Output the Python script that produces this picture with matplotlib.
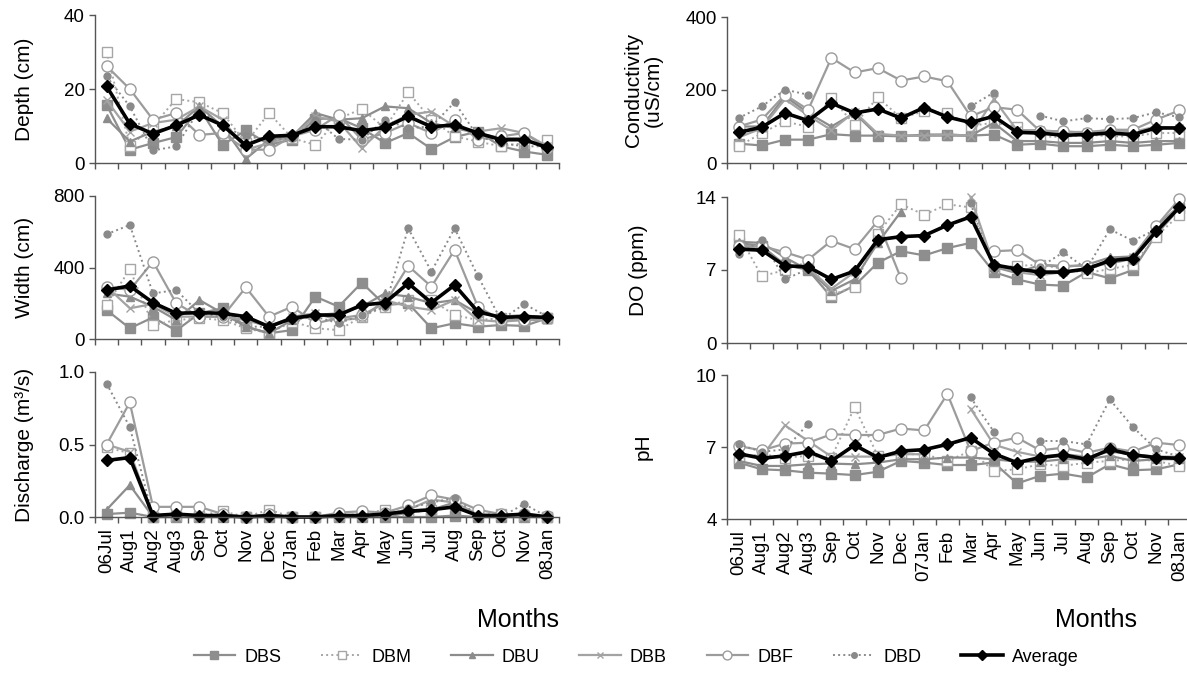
import matplotlib

matplotlib.use("Agg")
import matplotlib.pyplot as plt
import numpy as np

nan = np.nan
plt.rcParams["font.family"] = ["Liberation Sans", "DejaVu Sans"]

months = ["06Jul", "Aug1", "Aug2", "Aug3", "Sep", "Oct", "Nov", "Dec", "07Jan", "Feb",
          "Mar", "Apr", "May", "Jun", "Jul", "Aug", "Sep", "Oct", "Nov", "08Jan"]
sites = ["DBS", "DBM", "DBU", "DBB", "DBF", "DBD", "Average"]

# depth (cm)
depth_dbs = [15.7, 3.6, 5.4, 7.0, 14.8, 4.9, 8.8, 5.0, 6.3, 11.9, 12.1, 9.4, 5.4, 8.1, 3.8, 7.0, 8.5, 4.5, 3.1, 2.2]
depth_dbm = [30.1, 4.5, 10.0, 17.3, 16.4, 13.5, 5.4, 13.5, 6.7, 4.9, 12.0, 14.6, 9.4, 19.1, 11.7, 7.2, 5.8, 4.5, 5.4, 6.3]
depth_dbu = [12.1, 5.8, 8.5, 9.9, 15.3, 9.9, 1.1, 6.3, 7.2, 13.5, 11.7, 12.1, 15.3, 14.8, 10.8, 9.4, 8.1, 6.7, 6.7, 3.6]
depth_dbb = [17.0, 8.5, 10.8, 11.7, 15.3, 11.7, 3.6, 5.4, 7.2, 12.6, 11.2, 4.0, 9.9, 13.0, 13.9, 9.9, 8.5, 9.4, 8.1, 4.5]
depth_dbf = [26.2, 20.0, 11.7, 13.5, 7.6, 8.1, 3.6, 3.6, 7.2, 9.0, 13.0, 6.3, 8.1, 10.8, 8.1, 11.7, 6.3, 7.2, 8.1, 4.0]
depth_dbd = [23.4, 15.3, 3.4, 4.5, 14.4, 9.9, 7.2, 6.3, 6.7, 11.7, 6.5, 6.3, 11.7, 9.4, 9.9, 16.4, 7.2, 5.4, 4.5, 4.5]
depth_avg = [20.7, 10.6, 7.9, 10.2, 13.0, 10.2, 4.8, 7.2, 7.5, 9.8, 9.8, 8.7, 9.6, 12.6, 9.8, 10.3, 8.1, 6.3, 6.3, 4.2]

# width (cm)
width_dbs = [162, 60, 121, 47, 144, 172, 69, 32, 50, 237, 181, 315, 190, 200, 60, 88, 69, 78, 73, 116]
width_dbm = [190, 390, 78, 106, 116, 106, 60, 32, 97, 60, 50, 125, 181, 218, 218, 134, 106, 116, 106, 116]
width_dbu = [255, 237, 181, 106, 218, 144, 69, 32, 106, 134, 144, 181, 255, 237, 200, 218, 144, 125, 134, 116]
width_dbb = [293, 172, 196, 125, 125, 125, 106, 69, 125, 144, 106, 116, 218, 181, 162, 218, 106, 97, 106, 106]
width_dbf = [293, 274, 433, 200, 125, 125, 289, 125, 181, 88, 116, 134, 200, 409, 293, 498, 181, 106, 106, 116]
width_dbd = [586, 638, 255, 274, 144, 125, 69, 69, 106, 125, 88, 134, 181, 619, 377, 619, 353, 106, 196, 125]
width_avg = [274, 297, 203, 144, 147, 144, 125, 69, 116, 134, 134, 190, 203, 312, 203, 302, 153, 121, 125, 121]

# discharge (m3/s)
disc_dbs = [0.02, 0.03, 0.0, 0.0, 0.0, 0.0, 0.0, 0.0, 0.0, 0.0, 0.0, 0.0, 0.0, 0.0, 0.0, 0.01, 0.0, 0.0, 0.0, 0.0]
disc_dbm = [0.48, 0.44, 0.0, 0.01, 0.01, 0.04, 0.0, 0.05, 0.0, 0.0, 0.01, 0.02, 0.05, 0.03, 0.05, 0.08, 0.02, 0.02, 0.01, 0.0]
disc_dbu = [0.05, 0.22, 0.0, 0.0, 0.0, 0.0, 0.0, 0.0, 0.0, 0.0, 0.0, 0.0, 0.0, 0.03, 0.05, 0.10, 0.0, 0.0, 0.0, 0.0]
disc_dbb = [0.50, 0.45, 0.01, 0.01, 0.01, 0.0, 0.0, 0.0, 0.0, 0.0, 0.01, 0.01, 0.01, 0.05, 0.12, 0.10, 0.02, 0.01, 0.01, 0.0]
disc_dbf = [0.50, 0.79, 0.07, 0.07, 0.07, 0.02, 0.0, 0.02, 0.0, 0.0, 0.03, 0.04, 0.03, 0.08, 0.15, 0.12, 0.05, 0.02, 0.02, 0.01]
disc_dbd = [0.92, 0.62, 0.0, 0.0, 0.0, 0.0, 0.0, 0.0, 0.0, 0.0, 0.0, 0.0, 0.0, 0.06, 0.10, 0.13, 0.01, 0.0, 0.09, 0.0]
disc_avg = [0.39, 0.41, 0.01, 0.02, 0.01, 0.01, 0.0, 0.01, 0.0, 0.0, 0.01, 0.01, 0.02, 0.04, 0.05, 0.07, 0.01, 0.01, 0.02, 0.0]

# conductivity (uS/cm)
cond_dbs = [53, 48, 64, 64, 79, 75, 75, 73, 78, 78, 75, 78, 50, 53, 46, 46, 50, 46, 50, 55]
cond_dbm = [46, 82, 114, 99, 178, 105, 180, 123, 142, 137, 102, 110, 100, 73, 71, 78, 73, 73, 82, 82]
cond_dbu = [100, 100, 183, 137, 100, 137, 75, 75, 75, 75, 75, 110, 60, 60, 55, 55, 60, 55, 60, 60]
cond_dbb = [70, 95, 175, 130, 90, 140, 80, 75, 75, 78, 75, 175, 90, 90, 85, 85, 90, 85, 100, 95]
cond_dbf = [100, 119, 187, 146, 288, 248, 260, 226, 237, 224, 128, 153, 146, 87, 87, 82, 91, 91, 119, 144]
cond_dbd = [123, 155, 201, 187, nan, nan, nan, nan, nan, nan, 155, 193, nan, 130, 114, 123, 120, 123, 139, 125]
cond_avg = [84, 98, 137, 116, 164, 137, 148, 123, 152, 126, 111, 128, 84, 82, 76, 78, 82, 78, 96, 96]

# dissolved oxygen (ppm)
do_dbs = [9.6, 9.3, 7.5, 7.0, 4.4, 5.5, 7.7, 8.8, 8.4, 9.1, 9.6, 6.8, 6.1, 5.6, 5.5, 6.8, 6.2, 7.0, 10.4, 12.9]
do_dbm = [10.4, 6.4, 7.0, 7.8, 4.6, 5.4, 10.5, 13.3, 12.3, 13.3, 13.0, 7.2, 7.4, 7.5, 7.1, 6.7, 7.1, 7.5, 10.2, 12.3]
do_dbu = [9.7, 9.6, 8.2, 7.0, 5.0, 6.1, 9.6, 12.6, nan, nan, nan, 7.3, 6.7, 7.5, 7.3, 7.5, 8.2, 8.3, 11.2, 13.1]
do_dbb = [9.3, 9.0, 7.5, 7.2, 5.2, 6.8, 10.0, nan, nan, nan, 14.0, 7.5, 6.8, 6.5, 6.8, 7.0, 7.8, 8.2, 11.0, 13.2]
do_dbf = [9.3, 9.3, 8.7, 8.0, 9.8, 9.0, 11.7, 6.2, nan, nan, nan, 8.8, 8.9, 7.5, 7.4, 7.4, 7.6, 8.1, 11.2, 13.8]
do_dbd = [8.5, 9.9, 6.1, 7.1, nan, nan, nan, nan, nan, nan, 13.4, 7.0, nan, 7.3, 8.7, 7.1, 10.9, 9.8, 10.9, 13.1]
do_avg = [9.0, 8.9, 7.4, 7.3, 6.1, 6.9, 9.9, 10.2, 10.3, 11.3, 12.1, 7.5, 7.1, 6.8, 6.8, 7.1, 7.9, 8.1, 10.7, 13.0]

# pH
ph_dbs = [6.35, 6.07, 6.03, 5.93, 5.89, 5.83, 5.97, 6.42, 6.35, 6.25, 6.25, 6.35, 5.48, 5.80, 5.89, 5.73, 6.28, 6.03, 6.07, 6.28]
ph_dbm = [6.56, 6.70, 6.56, 6.63, 6.56, 8.66, 6.63, 6.70, 6.70, 6.42, 6.83, 6.00, 6.07, 6.28, 6.21, 6.35, 6.42, 6.49, 6.42, 6.21]
ph_dbu = [6.42, 6.21, 6.21, 6.28, 6.31, 6.28, 6.35, 6.49, 6.49, 6.56, 6.56, 6.49, 6.39, 6.39, 6.49, 6.49, 6.63, 6.42, 6.49, 6.49]
ph_dbb = [6.70, 6.60, 7.90, 7.25, 6.60, 6.60, 6.60, 6.70, 6.70, nan, 8.60, 7.10, 6.80, 6.60, 6.70, 6.60, 6.80, 6.70, 6.60, 6.60]
ph_dbf = [7.04, 6.86, 7.14, 7.18, 7.53, 7.50, 7.50, 7.77, 7.69, 9.21, 6.83, 7.18, 7.39, 6.86, 6.97, 6.76, 6.97, 6.81, 7.18, 7.08]
ph_dbd = [7.11, 6.80, 6.90, 7.97, nan, nan, nan, nan, nan, nan, 9.07, 7.64, nan, 7.25, 7.25, 7.11, 8.98, 7.83, 6.90, 6.60]
ph_avg = [6.72, 6.53, 6.63, 6.81, 6.42, 7.08, 6.56, 6.83, 6.89, 7.11, 7.39, 6.72, 6.35, 6.56, 6.67, 6.49, 6.90, 6.67, 6.56, 6.53]

styles = {
    "DBS": dict(color="#8e8e8e", ls="-", lw=1.6, marker="s", ms=7, mfc="#8e8e8e", mec="#8e8e8e"),
    "DBM": dict(color="#a6a6a6", ls=":", lw=1.4, marker="s", ms=7, mfc="white", mec="#a6a6a6", mew=1.0),
    "DBU": dict(color="#8c8c8c", ls="-", lw=1.6, marker="^", ms=6, mfc="#8c8c8c", mec="#8c8c8c"),
    "DBB": dict(color="#a3a3a3", ls="-", lw=1.6, marker="x", ms=6, mec="#a3a3a3", mew=1.0),
    "DBF": dict(color="#9c9c9c", ls="-", lw=1.6, marker="o", ms=8, mfc="white", mec="#9c9c9c", mew=1.0),
    "DBD": dict(color="#8a8a8a", ls=":", lw=1.4, marker="o", ms=5, mfc="#8a8a8a", mec="#8a8a8a"),
    "Average": dict(color="black", ls="-", lw=2.6, marker="D", ms=6, mfc="black", mec="black"),
}

W, H = 1187, 673
fig = plt.figure(figsize=(W / 100, H / 100), dpi=100)


def px_axes(x0, y0, x1, y1):
    return fig.add_axes([x0 / W, 1 - y1 / H, (x1 - x0) / W, (y1 - y0) / H])


panels = [
    # (box, series, ylim, yticks, ticklabels, ylabel, label x, show x labels)
    ((95, 15, 559, 163), [depth_dbs, depth_dbm, depth_dbu, depth_dbb, depth_dbf, depth_dbd, depth_avg],
     (0, 40), [0, 20, 40], ["0", "20", "40"], "Depth (cm)", -0.153, False),
    ((95, 196, 559, 339), [width_dbs, width_dbm, width_dbu, width_dbb, width_dbf, width_dbd, width_avg],
     (0, 800), [0, 400, 800], ["0", "400", "800"], "Width (cm)", -0.153, False),
    ((95, 372, 559, 517), [disc_dbs, disc_dbm, disc_dbu, disc_dbb, disc_dbf, disc_dbd, disc_avg],
     (0, 1.0), [0, 0.5, 1.0], ["0.0", "0.5", "1.0"], "Discharge (m³/s)", -0.153, True),
    ((727, 17, 1191, 163), [cond_dbs, cond_dbm, cond_dbu, cond_dbb, cond_dbf, cond_dbd, cond_avg],
     (0, 400), [0, 200, 400], ["0", "200", "400"], "Conductivity\n(uS/cm)", -0.18, False),
    ((727, 197, 1191, 343), [do_dbs, do_dbm, do_dbu, do_dbb, do_dbf, do_dbd, do_avg],
     (0, 14), [0, 7, 14], ["0", "7", "14"], "DO (ppm)", -0.19, False),
    ((727, 375, 1191, 519), [ph_dbs, ph_dbm, ph_dbu, ph_dbb, ph_dbf, ph_dbd, ph_avg],
     (4, 10), [4, 7, 10], ["4", "7", "10"], "pH", -0.18, True),
]

x = np.arange(len(months))
handles = []
for box, series, ylim, yt, ytl, ylabel, lx, show_x in panels:
    ax = px_axes(*box)
    lines = []
    for name, vals in zip(sites, series):
        ln, = ax.plot(x, vals, label=name, clip_on=False, **styles[name])
        lines.append(ln)
    if not handles:
        handles = lines
    ax.set_xlim(-0.5, len(months) - 0.5)
    ax.set_ylim(*ylim)
    ax.set_yticks(yt)
    ax.set_yticklabels(ytl, fontsize=13.5)
    for s in ("top", "right"):
        ax.spines[s].set_visible(False)
    for s in ("left", "bottom"):
        ax.spines[s].set_color("#555555")
        ax.spines[s].set_linewidth(1.0)
    ax.tick_params(axis="y", direction="out", length=4.5, width=1.0, color="#555555", pad=3)
    ax.set_xticks(np.arange(-0.5, len(months), 1.0))
    ax.set_xticklabels([])
    ax.tick_params(axis="x", which="major", direction="out", length=4.5, width=1.0, color="#555555")
    ax.set_xticks(x, minor=True)
    if show_x:
        ax.set_xticklabels(months, minor=True, rotation=90, fontsize=13.5)
    ax.tick_params(axis="x", which="minor", length=0, pad=8)
    ax.set_ylabel(ylabel, fontsize=15, va="center", ha="center", linespacing=1.0)
    ax.yaxis.set_label_coords(lx, 0.5)

fig.text(559 / W, 1 - 627 / H, "Months", fontsize=18, ha="right", va="baseline")
fig.text(1137 / W, 1 - 627 / H, "Months", fontsize=18, ha="right", va="baseline")

fig.legend(handles, sites, loc="center", bbox_to_anchor=(636 / W, 1 - 657 / H), ncol=7,
           frameon=False, fontsize=13, handlelength=2.3, handletextpad=0.5,
           columnspacing=2.2, markerscale=0.8)

fig.savefig("out.png", dpi=100)
